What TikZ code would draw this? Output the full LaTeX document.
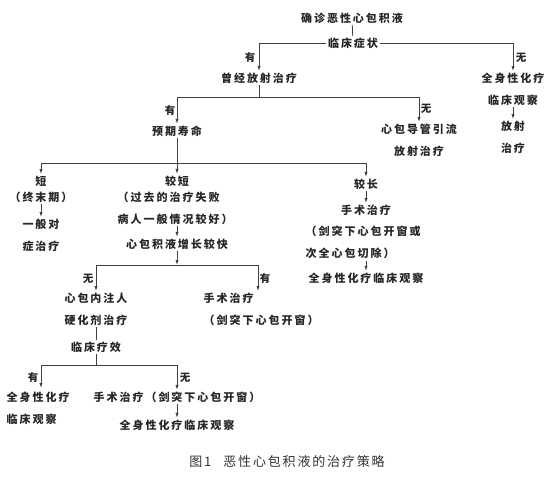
\documentclass[tikz,border=0pt]{standalone}
\usepackage{fontspec}
\newfontfamily\cjk[LetterSpace=18]{Noto Sans CJK SC}
\newfontfamily\cjkcap[LetterSpace=14]{Noto Sans CJK SC}
\usetikzlibrary{arrows.meta}
\tikzset{
  txt/.style={inner sep=1.5pt, text=black!85, font=\cjk\bfseries\fontsize{11}{22}\selectfont, align=center},
  txtl/.style={txt, align=left},
  lab/.style={inner sep=0pt, text=black!85, font=\cjk\bfseries\fontsize{10.5}{12}\selectfont},
  ln/.style={draw=black!75, line width=0.8pt},
  arr/.style={ln, -{Latex[length=5pt,width=3.2pt]}},
}
\begin{document}
\begin{tikzpicture}[x=1pt,y=-1pt]
\useasboundingbox (0,0) rectangle (554,477);
\fill[white] (0,0) rectangle (554,477);
% nodes
\node[txt] (top) at (352,18) {确诊恶性心包积液};
\node[txt] (lc) at (353,43) {临床症状};
\node[txt] (cj) at (259,78) {曾经放射治疗};
\node[txt] (qs) at (513,89) {全身性化疗\\临床观察};
\node[txt] (fs) at (513,137) {放射\\治疗};
\node[txt] (yq) at (177,131) {预期寿命};
\node[txt] (dg) at (419,140) {心包导管引流\\放射治疗};
\node[txt] (dn) at (41,189) {短\\[-6pt]（终末期）};
\node[txt] (yb) at (41,235) {一般对\\症治疗};
\node[txt] (jd) at (177,181) {较短};
\node[txtl, anchor=west] (gq) at (116,208) {（过去的治疗失败\\病人一般情况较好）};
\node[txt] (zk) at (177,244) {心包积液增长较快};
\node[txt] (xb) at (96,309) {心包内注人\\硬化剂治疗};
\node[txtl, anchor=west] (ss1) at (202,309) {手术治疗\\（剑突下心包开窗）};
\node[txt] (lx) at (96,347) {临床疗效};
\node[txtl, anchor=west] (qs2) at (5,408) {全身性化疗\\临床观察};
\node[txt] (ss2) at (177,397) {手术治疗（剑突下心包开窗）};
\node[txt] (qs3) at (177,425) {全身性化疗临床观察};
\node[txt] (jc) at (366,184) {较长};
\node[txt] (ss3) at (366,210) {手术治疗};
\node[txtl, anchor=west] (jt) at (304,242.5) {（剑突下心包开窗或\\次全心包切除）};
\node[txt] (qs4) at (366,278) {全身性化疗临床观察};
\node[inner sep=0pt, text=black!80, font=\cjkcap\fontsize{13}{15}\selectfont] (cap) at (287,462) {图1\hspace{12pt}恶性心包积液的治疗策略};
% junctions
\coordinate (j1) at (259,97);
\coordinate (j2) at (177,163);
\coordinate (j4) at (177,265);
\coordinate (j4l) at (96,265);
\coordinate (j4r) at (258,265);
\coordinate (j5) at (96,365);
% connectors
\draw[ln] (top) -- (lc);
\draw[arr] (lc.west) -| (cj.north);
\draw[arr] (lc.east) -| (qs.north);
\draw[arr] (qs) -- (fs);
\draw[ln] (cj) -- (j1);
\draw[arr] (j1) -| (yq.north);
\draw[arr] (j1) -| (dg.north);
\draw[ln] (yq) -- (j2);
\draw[arr] (j2) -| (dn.north);
\draw[arr] (j2) -- (jd.north);
\draw[arr] (j2) -| (jc.north);
\draw[arr] (dn) -- (yb);
\draw[arr] (gq.south -| zk.north) -- (zk.north);
\draw[arr] (zk) -- (j4);
\draw[ln] (j4l) -- (j4r);
\draw[arr] (j4l) -- (xb.north);
\draw[arr] (j4r) -- (j4r |- ss1.north);
\draw[ln] (xb) -- (lx);
\draw[ln] (lx) -- (j5);
\draw[arr] (j5) -| (41,388);
\draw[arr] (j5) -| (ss2.north);
\draw[arr] (ss2) -- (qs3);
\draw[arr] (jc) -- (ss3);
\draw[arr] (jt.south -| qs4.north) -- (qs4.north);
% labels
\node[lab] (l1) at (250,58) {有};
\node[lab] (l2) at (521,58) {无};
\node[lab] (l3) at (170,111) {有};
\node[lab] (l4) at (426,109) {无};
\node[lab] (l5) at (88,279) {无};
\node[lab] (l6) at (265,279) {有};
\node[lab] (l7) at (33,378) {有};
\node[lab] (l8) at (185,378) {无};
\end{tikzpicture}
\end{document}
